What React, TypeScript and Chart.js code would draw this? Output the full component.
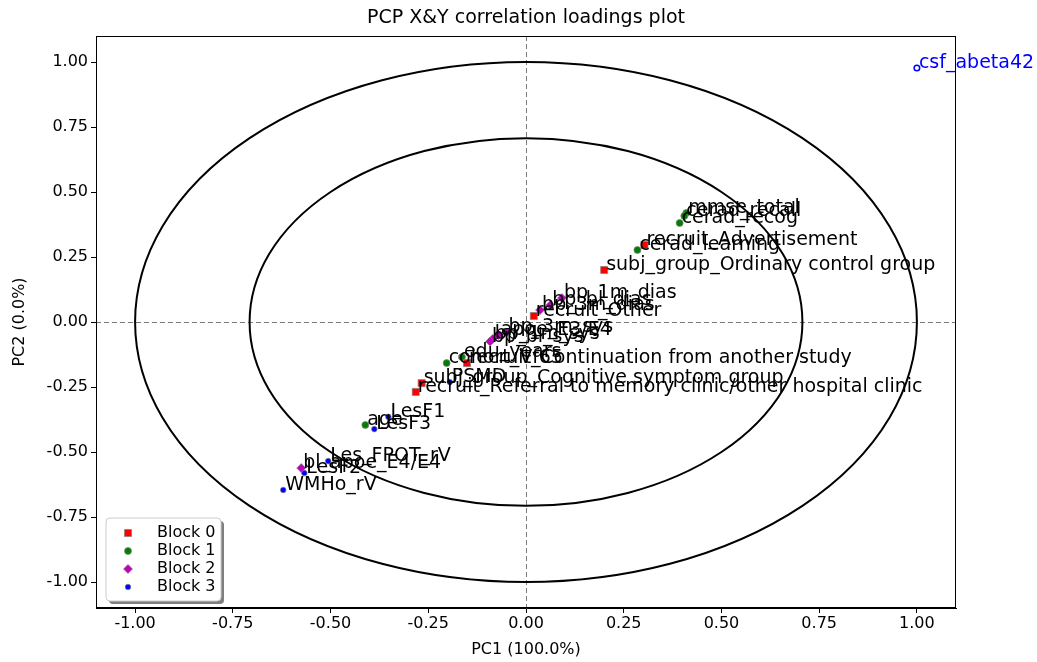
import { useEffect, useRef } from "react";
import { Chart, registerables } from "chart.js";
Chart.register(...registerables);

// Block 0 (red squares)
const block0Labels = [
  "recruit_Advertisement",
  "subj_group_Ordinary control group",
  "recruit_Other",
  "recruit_Continuation from another study",
  "subj_group_Cognitive symptom group",
  "recruit_Referral to memory clinic/other hospital clinic",
];
const block0X = [0.303, 0.2, 0.02, -0.151, -0.267, -0.282];
const block0Y = [0.296, 0.2, 0.023, -0.158, -0.235, -0.269];

// Block 1 (green circles)
const block1Labels = ["mmse_total", "cerad_recall", "cerad_recog", "cerad_learning", "edu_years", "cohort_Vf65", "age"];
const block1X = [0.41, 0.405, 0.393, 0.285, -0.164, -0.203, -0.411];
const block1Y = [0.419, 0.408, 0.381, 0.277, -0.135, -0.158, -0.396];

// Block 2 (magenta diamonds)
const block2Labels = ["bp_1m_dias", "bp_bl_dias", "bp_3m_dias", "bp_3m_sys", "apoe_E3/E4", "bp_1m_sys", "bp_bl_sys", "bl_apoe_E4/E4"];
const block2X = [0.092, 0.062, 0.036, -0.05, -0.07, -0.085, -0.092, -0.575];
const block2Y = [0.092, 0.065, 0.046, -0.04, -0.05, -0.065, -0.075, -0.562];

// Block 3 (blue circles)
const block3Labels = ["csf_abeta42", "PSMD", "LesF1", "LesF3", "Les_FPOT_rV", "LesF2", "WMHo_rV"];
const block3X = [1.0, -0.195, -0.352, -0.388, -0.506, -0.567, -0.621];
const block3Y = [0.977, -0.231, -0.365, -0.412, -0.535, -0.581, -0.646];

const highlightLabels = ["csf_abeta42"];
const tickValues = [-1, -0.75, -0.5, -0.25, 0, 0.25, 0.5, 0.75, 1];
const circleRadii = [1, Math.SQRT1_2];

const legendNames = ["Block 0", "Block 1", "Block 2", "Block 3"];
const blockColors = ["#ff0000", "#008000", "#bf00bf", "#0000ff"];
const blockShapes = ["rect", "circle", "rectRot", "circle"];
const blockSizes = [5, 3.5, 4.5, 2.8];

const FONT = "'DejaVu Sans', sans-serif";

function toPoints(labels: string[], xs: number[], ys: number[]) {
  return labels.map((l, i) => ({ x: xs[i], y: ys[i], label: l }));
}

function drawMarker(ctx: CanvasRenderingContext2D, shape: string, x: number, y: number, r: number, fill: string) {
  ctx.beginPath();
  if (shape === "rect") {
    const s = r * Math.SQRT1_2;
    ctx.rect(x - s, y - s, 2 * s, 2 * s);
  } else if (shape === "rectRot") {
    ctx.moveTo(x, y - r);
    ctx.lineTo(x + r, y);
    ctx.lineTo(x, y + r);
    ctx.lineTo(x - r, y);
    ctx.closePath();
  } else {
    ctx.arc(x, y, r, 0, Math.PI * 2);
  }
  ctx.fillStyle = fill;
  ctx.fill();
  ctx.strokeStyle = "rgba(128,128,128,0.7)";
  ctx.lineWidth = 1;
  ctx.stroke();
}

const overlayPlugin = {
  id: "overlay",
  beforeDatasetsDraw(chart: any) {
    const { ctx, chartArea, scales } = chart;
    const xs = scales.x;
    const ys = scales.y;
    const cx = xs.getPixelForValue(0);
    const cy = ys.getPixelForValue(0);
    ctx.save();
    ctx.beginPath();
    ctx.rect(chartArea.left, chartArea.top, chartArea.right - chartArea.left, chartArea.bottom - chartArea.top);
    ctx.clip();
    ctx.strokeStyle = "#7a7a7a";
    ctx.lineWidth = 1;
    ctx.setLineDash([5, 3]);
    ctx.beginPath();
    const vx = Math.round(cx) + 0.5;
    const hy = Math.round(cy) + 0.5;
    ctx.moveTo(vx, chartArea.top);
    ctx.lineTo(vx, chartArea.bottom);
    ctx.moveTo(chartArea.left, hy);
    ctx.lineTo(chartArea.right, hy);
    ctx.stroke();
    ctx.setLineDash([]);
    ctx.strokeStyle = "#000";
    ctx.lineWidth = 2;
    circleRadii.forEach((r) => {
      const rx = xs.getPixelForValue(r) - cx;
      const ry = cy - ys.getPixelForValue(r);
      ctx.beginPath();
      ctx.ellipse(cx, cy, rx, ry, 0, 0, Math.PI * 2);
      ctx.stroke();
    });
    ctx.restore();
  },
  afterDatasetsDraw(chart: any) {
    const { ctx, chartArea, scales } = chart;
    const xs = scales.x;
    const ys = scales.y;
    ctx.save();
    ctx.font = `19px ${FONT}`;
    ctx.textAlign = "left";
    ctx.textBaseline = "alphabetic";
    chart.data.datasets.forEach((ds: any) => {
      ds.data.forEach((p: any) => {
        const px = xs.getPixelForValue(p.x);
        const py = ys.getPixelForValue(p.y);
        ctx.fillStyle = highlightLabels.includes(p.label) ? "#0000ff" : "#000";
        ctx.fillText(p.label, px + 2, py);
      });
    });
    // frame
    ctx.strokeStyle = "#000";
    ctx.lineWidth = 1;
    ctx.strokeRect(chartArea.left + 0.5, chartArea.top + 0.5, chartArea.right - chartArea.left - 1, chartArea.bottom - chartArea.top - 1);
    // title
    const midX = (chartArea.left + chartArea.right) / 2;
    ctx.fillStyle = "#000";
    ctx.textAlign = "center";
    ctx.textBaseline = "middle";
    ctx.font = `19px ${FONT}`;
    ctx.fillText("PCP X&Y correlation loadings plot", midX, 18);
    ctx.font = `16px ${FONT}`;
    ctx.fillText("PC1 (100.0%)", midX, 650);
    ctx.save();
    ctx.translate(20, (chartArea.top + chartArea.bottom) / 2);
    ctx.rotate(-Math.PI / 2);
    ctx.fillText("PC2 (0.0%)", 0, 0);
    ctx.restore();
    // legend
    const lx = 106, ly = 518, lw = 115, lh = 83;
    const rr = 4;
    const rounded = (x: number, y: number) => {
      ctx.beginPath();
      ctx.moveTo(x + rr, y);
      ctx.lineTo(x + lw - rr, y);
      ctx.quadraticCurveTo(x + lw, y, x + lw, y + rr);
      ctx.lineTo(x + lw, y + lh - rr);
      ctx.quadraticCurveTo(x + lw, y + lh, x + lw - rr, y + lh);
      ctx.lineTo(x + rr, y + lh);
      ctx.quadraticCurveTo(x, y + lh, x, y + lh - rr);
      ctx.lineTo(x, y + rr);
      ctx.quadraticCurveTo(x, y, x + rr, y);
      ctx.closePath();
    };
    rounded(lx + 3, ly + 3);
    ctx.fillStyle = "rgba(0,0,0,0.5)";
    ctx.fill();
    rounded(lx, ly);
    ctx.fillStyle = "#fff";
    ctx.fill();
    ctx.strokeStyle = "#cccccc";
    ctx.lineWidth = 1;
    ctx.stroke();
    ctx.font = `16px ${FONT}`;
    ctx.textAlign = "left";
    ctx.textBaseline = "middle";
    legendNames.forEach((name, i) => {
      const yy = ly + 15 + i * 18;
      drawMarker(ctx, blockShapes[i], lx + 22, yy, blockSizes[i], blockColors[i]);
      ctx.fillStyle = "#000";
      ctx.fillText(name, lx + 51, yy);
    });
    ctx.restore();
  },
};

export default function App() {
  const canvasRef = useRef<HTMLCanvasElement | null>(null);
  useEffect(() => {
    if (!canvasRef.current) return;
    const mk = (i: number, data: any[], hollow: string[] = []) => ({
      label: legendNames[i],
      data,
      pointStyle: blockShapes[i],
      pointRadius: blockSizes[i],
      pointHoverRadius: blockSizes[i],
      backgroundColor: data.map((p: any) => (hollow.includes(p.label) ? "#ffffff" : blockColors[i])),
      borderColor: data.map((p: any) => (hollow.includes(p.label) ? blockColors[i] : "rgba(128,128,128,0.7)")),
      borderWidth: data.map((p: any) => (hollow.includes(p.label) ? 1.5 : 1)),
    });
    const axisCommon = (pad: number) => ({
      type: "linear" as const,
      min: -1.1,
      max: 1.1,
      afterBuildTicks: (scale: any) => {
        scale.ticks = tickValues.map((v) => ({ value: v }));
      },
      ticks: {
        color: "#000",
        font: { family: FONT, size: 16 },
        padding: pad,
        callback: (v: any) => Number(v).toFixed(2),
      },
      grid: { display: true, drawOnChartArea: false, drawTicks: true, tickLength: 5, color: "#000" },
      border: { display: true, color: "#000" },
    });
    const chart = new Chart(canvasRef.current, {
      type: "scatter",
      data: {
        datasets: [
          mk(0, toPoints(block0Labels, block0X, block0Y)),
          mk(1, toPoints(block1Labels, block1X, block1Y)),
          mk(2, toPoints(block2Labels, block2X, block2Y)),
          mk(3, toPoints(block3Labels, block3X, block3Y), highlightLabels),
        ],
      },
      options: {
        responsive: false,
        animation: false,
        layout: { padding: { top: 36, right: 81, bottom: 0, left: 0 } },
        plugins: { legend: { display: false }, tooltip: { enabled: false }, title: { display: false } },
        scales: {
          x: { ...axisCommon(1), position: "bottom", afterFit: (s: any) => { s.height = 54; } },
          y: { ...axisCommon(3), position: "left", afterFit: (s: any) => { s.width = 96; } },
        },
      },
      plugins: [overlayPlugin],
    } as any);
    return () => chart.destroy();
  }, []);
  return (
    <div style={{ position: "absolute", left: 0, top: 0, width: 1037, height: 662, background: "#fff" }}>
      <canvas ref={canvasRef} width={1037} height={662} />
    </div>
  );
}
